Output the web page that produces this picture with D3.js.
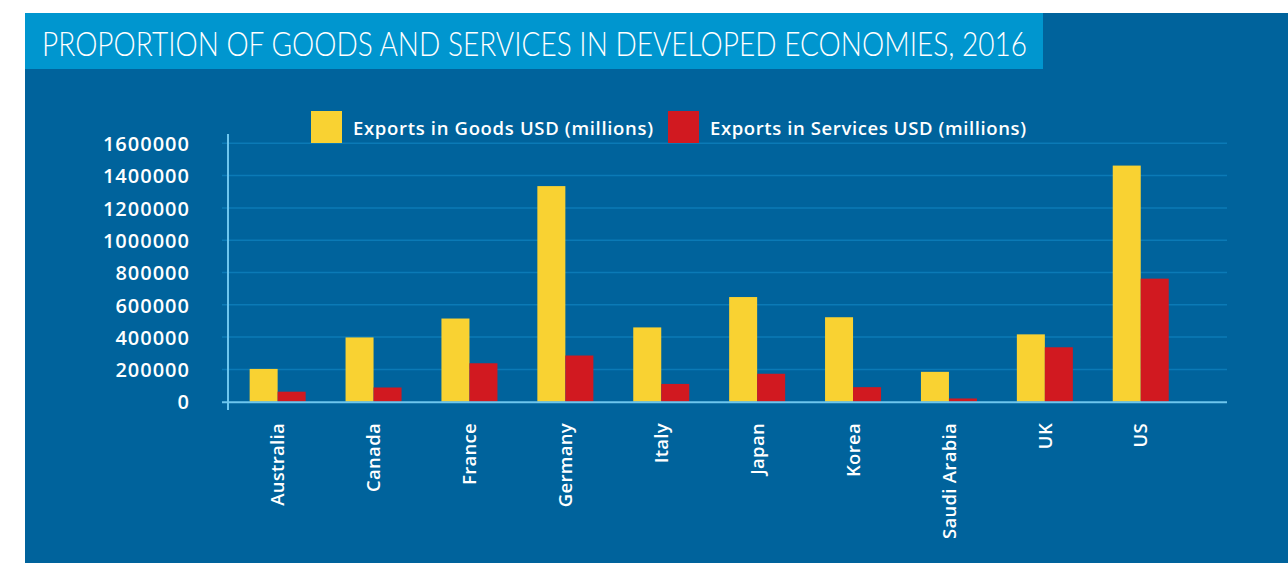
<!DOCTYPE html>
<html>
<head>
<meta charset="utf-8">
<script src="https://cdn.jsdelivr.net/npm/d3@7/dist/d3.min.js"></script>
<style>
  html, body { margin: 0; padding: 0; background: #ffffff; }
  svg { display: block; }
</style>
</head>
<body>
<svg id="chart" width="1288" height="563"></svg>
<script>
// Export values, 2016, USD millions
const countries = ["Australia", "Canada", "France", "Germany", "Italy", "Japan", "Korea", "Saudi Arabia", "UK", "US"];
const goodsExports = [203000, 398000, 515000, 1335000, 460000, 648000, 523000, 185000, 417000, 1462000];
const servicesExports = [62000, 88000, 238000, 286000, 110000, 173000, 90000, 20000, 337000, 762000];
const yTicks = [0, 200000, 400000, 600000, 800000, 1000000, 1200000, 1400000, 1600000];
const seriesNames = ["Exports in Goods USD (millions)", "Exports in Services USD (millions)"];
const seriesColors = ["#f9d232", "#d11920"];
const titleText = "PROPORTION OF GOODS AND SERVICES IN DEVELOPED ECONOMIES, 2016";

const svg = d3.select("#chart");
const W = 1288, H = 563;

// Panel and title bar
svg.append("rect").attr("x", 25).attr("y", 13).attr("width", W - 25).attr("height", H - 13).attr("fill", "#00639c");
svg.append("rect").attr("x", 25).attr("y", 13).attr("width", 1018).attr("height", 56).attr("fill", "#0096cf");
svg.append("text")
  .attr("x", 42).attr("y", 56)
  .attr("fill", "#ffffff")
  .attr("font-family", "Lato, 'Open Sans', sans-serif")
  .attr("font-weight", 300)
  .attr("font-size", 34)
  .attr("textLength", 985)
  .attr("lengthAdjust", "spacingAndGlyphs")
  .text(titleText);

// Scales
const y = d3.scaleLinear().domain([0, 1600000]).range([401.7, 143.3]);
const x0 = d3.scaleBand().domain(countries).range([229.7, 1188.7]).paddingInner(0.416).paddingOuter(0.208);
const x1 = d3.scaleBand().domain([0, 1]).range([0, x0.bandwidth()]);

const plotLeft = 222, plotRight = 1227, axisX = 228;
const labelFont = "'Open Sans', sans-serif";

// Gridlines
svg.append("g")
  .selectAll("line")
  .data(yTicks.filter(d => d > 0))
  .join("line")
  .attr("x1", plotLeft).attr("x2", plotRight)
  .attr("y1", d => y(d)).attr("y2", d => y(d))
  .attr("stroke", "#0b7ab6").attr("stroke-width", 1.5);

// Y axis tick labels
const yAxis = d3.axisLeft(y).tickValues(yTicks).tickFormat(d3.format("d")).tickSize(0).tickPadding(0);
const yg = svg.append("g").attr("transform", "translate(190,0)").call(yAxis);
yg.select(".domain").remove();
yg.selectAll("text")
  .attr("fill", "#ffffff")
  .attr("font-family", labelFont)
  .attr("font-weight", 600)
  .attr("font-size", 20)
  .attr("letter-spacing", 1)
  .attr("dy", "0.36em");

// Bars
const groups = svg.append("g")
  .selectAll("g")
  .data(countries.map((c, i) => ({ c, vals: [goodsExports[i], servicesExports[i]] })))
  .join("g")
  .attr("transform", d => `translate(${x0(d.c)},0)`);

groups.selectAll("rect")
  .data(d => d.vals.map((v, k) => ({ v, k })))
  .join("rect")
  .attr("x", d => x1(d.k))
  .attr("width", x1.bandwidth())
  .attr("y", d => y(d.v))
  .attr("height", d => y(0) - y(d.v))
  .attr("fill", d => seriesColors[d.k]);

// Axis lines
svg.append("line")
  .attr("x1", plotLeft).attr("x2", plotRight)
  .attr("y1", y(0) + 0.5).attr("y2", y(0) + 0.5)
  .attr("stroke", "#6ec6ee").attr("stroke-width", 2);
svg.append("line")
  .attr("x1", axisX).attr("x2", axisX)
  .attr("y1", 134).attr("y2", 410)
  .attr("stroke", "#6ec6ee").attr("stroke-width", 2);

// Category labels, rotated
const xAxis = d3.axisBottom(x0).tickSize(0).tickPadding(0);
const xg = svg.append("g").attr("transform", "translate(0,423)").call(xAxis);
xg.select(".domain").remove();
xg.selectAll("text")
  .attr("fill", "#ffffff")
  .attr("font-family", labelFont)
  .attr("font-weight", 600)
  .attr("font-size", 18.5)
  .attr("letter-spacing", 0.3)
  .attr("text-anchor", "end")
  .attr("transform", "rotate(-90)")
  .attr("x", 0)
  .attr("y", 0)
  .attr("dy", "0.36em");

// Legend
const legend = svg.append("g");
const legendX = [311, 668];
const legendTextWidth = [300, 316];
seriesNames.forEach((name, k) => {
  legend.append("rect")
    .attr("x", legendX[k]).attr("y", 111)
    .attr("width", 31).attr("height", 32)
    .attr("fill", seriesColors[k]);
  legend.append("text")
    .attr("x", legendX[k] + 42).attr("y", 135)
    .attr("fill", "#ffffff")
    .attr("font-family", labelFont)
    .attr("font-weight", 600)
    .attr("font-size", 18.5)
    .attr("textLength", legendTextWidth[k])
    .attr("lengthAdjust", "spacing")
    .text(name);
});
</script>
</body>
</html>
